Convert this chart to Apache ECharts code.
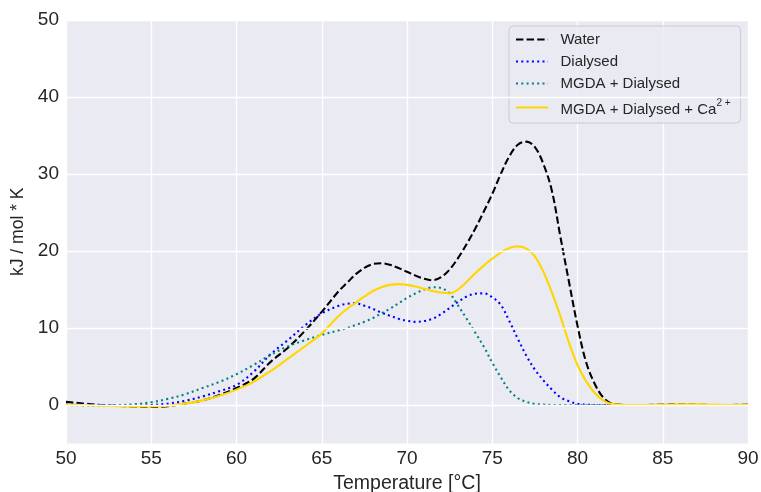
<!DOCTYPE html>
<html>
<head>
<meta charset="utf-8">
<script src="https://cdn.jsdelivr.net/npm/echarts@6/dist/echarts.min.js"></script>
<style>
  html, body { margin: 0; padding: 0; background: #ffffff; }
  #chart { width: 761px; height: 492px; }
</style>
</head>
<body>
<div id="chart"></div>
<script>
// Temperature grid (°C) shared by all curves
const temperature = [
  50, 51, 52, 53, 54, 55, 56, 57, 58, 59, 60, 61, 62, 63, 64, 65, 66,
  66.5, 67, 67.5, 68, 68.5, 69, 69.5, 70, 70.5, 71, 71.5, 72, 72.5, 73, 73.5,
  74, 74.5, 75, 75.5, 76, 76.5, 77, 77.5, 78, 78.5, 79, 79.5, 80, 80.5, 81, 81.5, 82,
  83, 84, 85, 86, 87, 88, 89, 90
];

// Heat capacity (kJ / mol * K)
const water = [
  0.4, 0.2, 0.0, -0.1, -0.2, -0.25, -0.15, 0.2, 0.6, 1.3, 2.2, 3.4, 5.6, 7.4, 9.6, 12.1, 14.8,
  15.9, 17.0, 17.8, 18.3, 18.4, 18.2, 17.8, 17.3, 16.8, 16.4, 16.2, 16.6, 17.6, 19.1, 20.9,
  22.9, 25.1, 27.4, 30.0, 32.3, 33.8, 34.2, 33.5, 31.3, 27.8, 21.8, 16.0, 10.3, 5.6, 2.8, 1.0, 0.2,
  0.0, 0.0, 0.05, 0.1, 0.05, 0.0, 0.0, 0.05
];

const dialysed = [
  0.2, 0.1, 0.0, -0.05, -0.05, 0.0, 0.2, 0.55, 1.1, 1.8, 2.6, 4.3, 6.6, 8.4, 10.3, 11.9, 12.9,
  13.15, 13.2, 12.9, 12.5, 12.0, 11.6, 11.2, 10.95, 10.8, 10.9, 11.2, 11.8, 12.6, 13.4, 14.1,
  14.45, 14.5, 14.0, 13.0, 10.9, 8.6, 6.4, 4.6, 3.2, 2.0, 1.0, 0.5, 0.15, 0.05, 0.0, 0.0, 0.0,
  0.0, 0.0, 0.0, 0.0, 0.0, 0.0, 0.0, 0.0
];

const mgdaDialysed = [
  0.0, -0.05, -0.1, -0.05, 0.1, 0.35, 0.8, 1.4, 2.2, 3.0, 4.0, 5.2, 6.5, 7.6, 8.4, 9.1, 9.7,
  10.0, 10.4, 10.8, 11.3, 11.9, 12.5, 13.2, 13.9, 14.5, 15.0, 15.3, 15.2, 14.5, 12.9, 11.2,
  9.4, 7.6, 5.5, 3.6, 1.9, 0.9, 0.4, 0.15, 0.05, 0.0, 0.0, 0.0, 0.0, 0.0, 0.0, 0.0, 0.0,
  0.0, 0.0, 0.0, 0.0, 0.0, 0.0, 0.0, 0.0
];

const mgdaDialysedCa = [
  0.1, 0.0, -0.1, -0.15, -0.2, -0.2, -0.1, 0.2, 0.6, 1.2, 2.0, 3.0, 4.4, 6.0, 7.6, 9.3, 11.6,
  12.5, 13.3, 14.1, 14.8, 15.3, 15.6, 15.7, 15.6, 15.4, 15.1, 14.8, 14.6, 14.5, 15.0, 16.0,
  17.1, 18.1, 19.0, 19.8, 20.4, 20.6, 20.3, 19.3, 17.3, 14.6, 11.5, 8.1, 5.2, 3.1, 1.6, 0.6, 0.15,
  0.0, 0.0, 0.05, 0.1, 0.1, 0.05, 0.0, 0.05
];

const seriesNames = ['Water', 'Dialysed', 'MGDA + Dialysed', 'MGDA + Dialysed + Ca²⁺'];
const xTicks = [50, 55, 60, 65, 70, 75, 80, 85, 90];
const yTicks = [0, 10, 20, 30, 40, 50];
const yMin = -5;

const FONT = '"Liberation Sans", Arial, "DejaVu Sans", sans-serif';
const TEXT = '#262626';
const GRID_LINE = { color: '#ffffff', width: 1.3, type: 'solid' };

function pairs(ys) {
  return temperature.map((t, i) => [t, ys[i]]);
}

function lineSeries(name, ys, color, dash, width) {
  return {
    name: name,
    type: 'line',
    data: pairs(ys),
    smooth: 0.35,
    symbol: 'none',
    lineStyle: { color: color, width: width, type: dash, cap: 'butt' },
    itemStyle: { color: color },
    z: 3
  };
}

const chart = echarts.init(document.getElementById('chart'), null, { renderer: 'canvas' });

chart.setOption({
  animation: false,
  backgroundColor: '#ffffff',
  textStyle: { fontFamily: FONT },
  grid: {
    left: 66, right: 13, top: 20, bottom: 48.5,
    outerBoundsMode: 'none',
    containLabel: false,
    show: true, backgroundColor: '#EAEAF2', borderWidth: 0
  },
  xAxis: {
    type: 'value',
    min: xTicks[0], max: xTicks[xTicks.length - 1], interval: 5,
    name: 'Temperature [°C]',
    nameLocation: 'middle',
    nameGap: 30,
    nameTextStyle: { color: TEXT, fontSize: 19.5, fontFamily: FONT },
    axisLine: { show: false },
    axisTick: { show: false },
    axisLabel: { color: TEXT, fontSize: 19, fontFamily: FONT, margin: 6 },
    splitLine: { show: true, lineStyle: GRID_LINE }
  },
  yAxis: {
    type: 'value',
    min: yMin, max: yTicks[yTicks.length - 1], interval: 5,
    name: 'kJ / mol * K',
    nameLocation: 'middle',
    nameGap: 32,
    nameTextStyle: { color: TEXT, fontSize: 17.5, fontFamily: FONT },
    axisLine: { show: false },
    axisTick: { show: false },
    axisLabel: {
      color: TEXT, fontSize: 19, fontFamily: FONT, margin: 7,
      formatter: v => (yTicks.indexOf(v) >= 0 ? String(v) : '')
    },
    splitLine: { show: false }
  },
  legend: {
    orient: 'vertical',
    left: 509, top: 26,
    padding: [6, 10, 6, 6],
    itemGap: 7,
    itemWidth: 32,
    itemHeight: 14,
    backgroundColor: 'rgba(234,234,242,0.8)',
    borderColor: '#cccccc',
    borderWidth: 1,
    borderRadius: 4,
    itemStyle: { opacity: 0, borderWidth: 0 },
    data: seriesNames,
    formatter: function (name) {
      if (name === seriesNames[3]) {
        return '{b|MGDA + Dialysed + Ca}{s|2 +}';
      }
      return '{a|' + name + '}';
    },
    textStyle: {
      color: TEXT, fontSize: 15, fontFamily: FONT,
      padding: [0, 0, 0, 7.5],
      rich: {
        a: { fontSize: 15, lineHeight: 17, color: TEXT, fontFamily: FONT },
        b: { fontSize: 15, lineHeight: 17, verticalAlign: 'bottom', color: TEXT, fontFamily: FONT },
        s: { fontSize: 10, lineHeight: 19, verticalAlign: 'top', color: TEXT, fontFamily: FONT }
      }
    }
  },
  series: [
    {
      // horizontal grid lines at the labelled y ticks
      name: 'grid',
      type: 'line',
      data: [],
      z: 1,
      silent: true,
      markLine: {
        silent: true,
        symbol: 'none',
        label: { show: false },
        lineStyle: GRID_LINE,
        emphasis: { disabled: true },
        data: yTicks.map(v => ({ yAxis: v }))
      }
    },
    lineSeries(seriesNames[0], water, '#000000', [7.4, 3.2], 2.1),
    lineSeries(seriesNames[1], dialysed, '#0000ff', [2, 3.3], 2.1),
    lineSeries(seriesNames[2], mgdaDialysed, '#008080', [2, 3.3], 2.1),
    lineSeries(seriesNames[3], mgdaDialysedCa, '#ffd700', 'solid', 2.1)
  ]
});
</script>
</body>
</html>
